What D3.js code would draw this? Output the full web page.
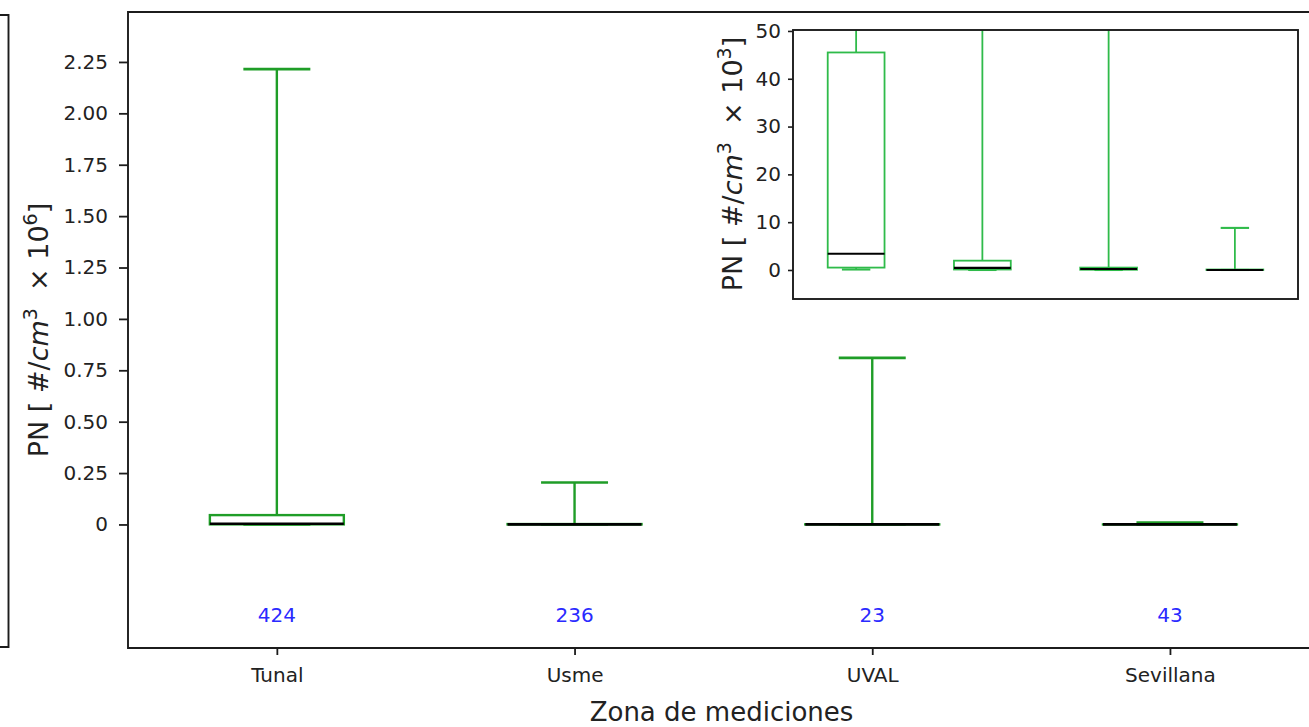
<!DOCTYPE html>
<html>
<head>
<meta charset="utf-8">
<script src="https://cdn.jsdelivr.net/npm/d3@7"></script>
<style>
  body { margin: 0; background: #fff; }
  svg { display: block; font-family: "DejaVu Sans", sans-serif; }
</style>
</head>
<body>
<svg id="chart" width="1309" height="727"></svg>
<script>
// Measurement zones and number of samples per zone
const categories = ["Tunal", "Usme", "UVAL", "Sevillana"];
const counts = [424, 236, 23, 43];

// Box statistics of particle number, in #/cm^3 × 10^3
const whiskerLow  = [0.1, 0.0, 0.0, 0.0];
const q1          = [0.5, 0.1, 0.05, 0.0];
const median      = [3.4, 0.45, 0.2, 0.0];
const q3          = [45.5, 1.95, 0.5, 0.1];
const whiskerHigh = [2215, 204, 810, 8.8];

// Axis ticks
const mainTicks = [0, 0.25, 0.5, 0.75, 1.0, 1.25, 1.5, 1.75, 2.0, 2.25];
const mainTickLabels = ["0", "0.25", "0.50", "0.75", "1.00", "1.25", "1.50", "1.75", "2.00", "2.25"];
const insetTicks = [0, 10, 20, 30, 40, 50];
const insetTickLabels = ["0", "10", "20", "30", "40", "50"];

const boxes = categories.map((c, i) => ({
  name: c, pos: i + 1, n: counts[i],
  lo: whiskerLow[i], q1: q1[i], med: median[i], q3: q3[i], hi: whiskerHigh[i]
}));

const BOX_W = 0.45, CAP_W = 0.225;
const INK = "#1c1c1c";

const svg = d3.select("#chart");

// Frame edge of the neighbouring panel on the left
svg.append("path")
  .attr("d", d3.line()([[0, 15], [8.5, 15], [8.5, 647], [0, 647]]))
  .attr("fill", "none").attr("stroke", INK).attr("stroke-width", 1.9);

function drawBoxes(g, x, y, scale, green, lw) {
  const sel = g.selectAll("g.box").data(boxes).join("g").attr("class", "box");
  // whiskers
  sel.append("line")
    .attr("x1", d => x(d.pos)).attr("x2", d => x(d.pos))
    .attr("y1", d => y(d.q1 * scale)).attr("y2", d => y(d.lo * scale))
    .attr("stroke", green).attr("stroke-width", lw);
  sel.append("line")
    .attr("x1", d => x(d.pos)).attr("x2", d => x(d.pos))
    .attr("y1", d => y(d.q3 * scale)).attr("y2", d => y(d.hi * scale))
    .attr("stroke", green).attr("stroke-width", lw);
  // caps
  ["lo", "hi"].forEach(k => {
    sel.append("line")
      .attr("x1", d => x(d.pos - CAP_W / 2)).attr("x2", d => x(d.pos + CAP_W / 2))
      .attr("y1", d => y(d[k] * scale)).attr("y2", d => y(d[k] * scale))
      .attr("stroke", green).attr("stroke-width", lw + 0.3);
  });
  // boxes
  sel.append("rect")
    .attr("x", d => x(d.pos - BOX_W / 2))
    .attr("width", d => x(d.pos + BOX_W / 2) - x(d.pos - BOX_W / 2))
    .attr("y", d => y(d.q3 * scale))
    .attr("height", d => y(d.q1 * scale) - y(d.q3 * scale))
    .attr("fill", "none").attr("stroke", green).attr("stroke-width", lw);
  // medians
  sel.append("line")
    .attr("x1", d => x(d.pos - BOX_W / 2)).attr("x2", d => x(d.pos + BOX_W / 2))
    .attr("y1", d => y(d.med * scale)).attr("y2", d => y(d.med * scale))
    .attr("stroke", "#000").attr("stroke-width", lw + 0.3);
}

// ---------- Main panel (× 10^6) ----------
const M = { left: 128, top: 12, bottom: 648 };
const x = d3.scaleLinear().domain([0.5, 4.5]).range([M.left, M.left + 4 * 297.7]);
const y = d3.scaleLinear().domain([-0.601, 2.493]).range([M.bottom, M.top]);

const main = svg.append("g");
drawBoxes(main, x, y, 1 / 1000, "#1f9d27", 2.4);

// sample counts
main.selectAll("text.count").data(boxes).join("text")
  .attr("class", "count")
  .attr("x", d => x(d.pos)).attr("y", 622)
  .attr("text-anchor", "middle").attr("fill", "#2a2aff")
  .style("font-size", "20px")
  .text(d => d.n);

// spines
svg.append("path")
  .attr("d", d3.line()([[1309, M.top], [M.left, M.top], [M.left, M.bottom], [1309, M.bottom]]))
  .attr("fill", "none").attr("stroke", INK).attr("stroke-width", 1.9);

const yAxis = svg.append("g").attr("transform", `translate(${M.left},0)`)
  .call(d3.axisLeft(y).tickValues(mainTicks)
    .tickFormat((d, i) => mainTickLabels[i]).tickSize(9).tickPadding(11).tickSizeOuter(0));
yAxis.select(".domain").remove();
yAxis.selectAll("line").attr("stroke", INK).attr("stroke-width", 1.8);
yAxis.selectAll("text").attr("fill", "#222").style("font-size", "20px")
  .style("font-family", "DejaVu Sans");

const xAxis = svg.append("g").attr("transform", `translate(0,${M.bottom})`)
  .call(d3.axisBottom(x).tickValues(boxes.map(d => d.pos))
    .tickFormat((d, i) => categories[i]).tickSize(7).tickPadding(13).tickSizeOuter(0));
xAxis.select(".domain").remove();
xAxis.selectAll("line").attr("stroke", INK).attr("stroke-width", 1.8);
xAxis.selectAll("text").attr("fill", "#222").style("font-size", "20px")
  .style("font-family", "DejaVu Sans");

svg.append("text")
  .attr("x", (M.left + 1309) / 2 + 3).attr("y", 721)
  .attr("text-anchor", "middle").attr("fill", "#222")
  .style("font-size", "26px")
  .text("Zona de mediciones");

function unitLabel(g, tx, ty, exp) {
  const t = g.append("text")
    .attr("transform", `translate(${tx},${ty}) rotate(-90)`)
    .attr("text-anchor", "middle").attr("fill", "#222")
    .style("font-size", "27px").style("white-space", "pre");
  t.append("tspan").text("PN [ #/");
  t.append("tspan").style("font-style", "italic").text("cm");
  t.append("tspan").attr("baseline-shift", "super").style("font-size", "19px").text("3");
  t.append("tspan").text("  \u00d7 10");
  t.append("tspan").attr("baseline-shift", "super").style("font-size", "19px").text(exp);
  t.append("tspan").text("]");
}
unitLabel(svg, 48, 330, "6");

// ---------- Inset panel (× 10^3) ----------
const I = { left: 793, right: 1298, top: 30, bottom: 299 };
const xi = d3.scaleLinear().domain([0.5, 4.5]).range([I.left, I.right]);
const yi = d3.scaleLinear().domain([-6.07, 50.2]).range([I.bottom, I.top]);

svg.append("rect")
  .attr("x", I.left).attr("y", I.top)
  .attr("width", I.right - I.left).attr("height", I.bottom - I.top)
  .attr("fill", "#fff");

svg.append("clipPath").attr("id", "inset-clip")
  .append("rect")
  .attr("x", I.left).attr("y", I.top)
  .attr("width", I.right - I.left).attr("height", I.bottom - I.top);

const inset = svg.append("g").attr("clip-path", "url(#inset-clip)");
drawBoxes(inset, xi, yi, 1, "#2fbb4a", 1.8);

svg.append("rect")
  .attr("x", I.left).attr("y", I.top)
  .attr("width", I.right - I.left).attr("height", I.bottom - I.top)
  .attr("fill", "none").attr("stroke", INK).attr("stroke-width", 1.9);

const yiAxis = svg.append("g").attr("transform", `translate(${I.left},0)`)
  .call(d3.axisLeft(yi).tickValues(insetTicks)
    .tickFormat((d, i) => insetTickLabels[i]).tickSize(5).tickPadding(7).tickSizeOuter(0));
yiAxis.select(".domain").remove();
yiAxis.selectAll("line").attr("stroke", INK).attr("stroke-width", 1.6);
yiAxis.selectAll("text").attr("fill", "#222").style("font-size", "20px")
  .style("font-family", "DejaVu Sans");

unitLabel(svg, 742, 164, "3");
</script>
</body>
</html>
